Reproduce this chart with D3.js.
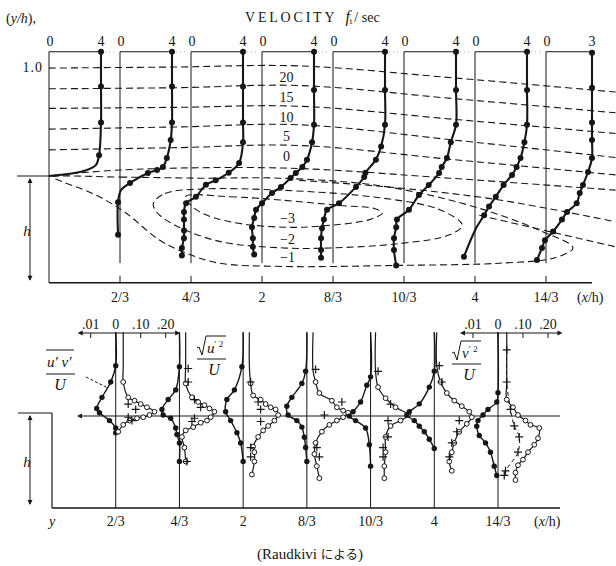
<!DOCTYPE html>
<html>
<head>
<meta charset="utf-8">
<script src="https://cdn.jsdelivr.net/npm/d3@7/dist/d3.min.js"></script>
<style>
  body { margin: 0; background: #fff; }
  svg text { font-family: "Liberation Serif", "DejaVu Serif", "Noto Sans CJK JP", serif; fill: #161616; }
</style>
</head>
<body>
<svg id="fig" width="616" height="566"></svg>
<script>
var WIDTH = 616;
var HEIGHT = 566;
var INK = "#161616";

// ---- top panel: velocity profiles (x/h stations, ft/sec) ----
var velStations = [0, 2/3, 4/3, 2, 8/3, 10/3, 4, 14/3];
var velTopTick = [4, 4, 4, 4, 4, 4, 4, 3];
var xTickLabels = ["2/3", "4/3", "2", "8/3", "10/3", "4", "14/3"];

// [y/h, u, dot]
var vel0 = [[1.14,4,1],[0.82,4,1],[0.49,4,1],[0.19,3.85,1],[0.10,3.6,0],[0.05,2.8,0],[0.02,1.6,0],[0,0,0]];
var vel1 = [[1.14,4,1],[0.82,4,1],[0.49,4,1],[0.33,3.9,1],[0.165,3.6,1],[0.083,3.3,1],[0.055,2.85,1],[0.028,2.15,1],
            [-0.064,0.77,1],[-0.128,0.08,0],[-0.24,-0.15,1],[-0.54,-0.15,1]];
var vel2 = [[1.14,4,1],[0.82,4,1],[0.49,4,1],[0.31,4,1],[0.12,3.7,1],[0.03,2.9,1],[-0.04,1.9,1],[-0.08,1.15,1],
            [-0.19,0.38,1],[-0.25,-0.38,1],[-0.33,-0.54,1],[-0.40,-0.54,1],[-0.50,-0.54,1],[-0.57,-0.54,1],[-0.66,-0.7,1],[-0.73,-0.7,1]];
var vel3 = [[1.14,4,1],[0.79,4,1],[0.47,4,1],[0.31,3.85,1],[0.15,3.46,1],[0.083,3.1,1],[0.028,2.6,1],[-0.018,2.2,1],
            [-0.1,1.46,1],[-0.156,0.77,1],[-0.25,0,1],[-0.31,-0.46,1],[-0.385,-0.6,1],[-0.47,-0.77,1],[-0.57,-0.7,1],[-0.65,-0.7,1],[-0.72,-0.6,1]];
var vel4 = [[1.14,4,1],[0.79,4,1],[0.47,4,1],[0.27,3.7,1],[0.15,3.3,1],[0.03,2.5,1],[-0.01,2.4,1],[-0.1,1.77,1],
            [-0.25,0.46,1],[-0.31,-0.46,1],[-0.4,-0.7,1],[-0.48,-0.85,1],[-0.57,-0.92,1],[-0.68,-0.92,1],[-0.75,-0.92,1]];
var vel5 = [[1.14,4,1],[0.79,4,1],[0.47,4,1],[0.31,3.6,1],[0.165,3.3,1],[0.083,2.9,1],[0.028,2.7,1],[-0.083,1.9,1],
            [-0.174,1.15,1],[-0.31,0.38,1],[-0.4,-0.54,1],[-0.47,-0.6,1],[-0.57,-0.77,1],[-0.68,-0.77,1],[-0.82,-0.6,1]];
var vel6 = [[1.14,4,1],[0.79,4,1],[0.47,4,1],[0.31,3.8,1],[0.165,3.5,1],[0.083,3.2,1],[0.01,2.85,1],[-0.083,2.2,1],
            [-0.19,1.6,1],[-0.28,1.08,1],[-0.36,0.7,1],[-0.48,0.08,0],[-0.74,-0.85,1]];
var vel7 = [[1.13,3,1],[0.81,3,1],[0.49,3,1],[0.33,3,1],[0.165,3,1],[0.037,2.74,1],[-0.083,2.41,1],[-0.156,2.2,1],
            [-0.25,2.0,1],[-0.33,1.37,1],[-0.4,1.04,1],[-0.51,0.46,1],[-0.59,-0.07,1],[-0.66,-0.26,1],[-0.77,-0.59,1]];
var velProfiles = [vel0, vel1, vel2, vel3, vel4, vel5, vel6, vel7];

// stream function contours [x/h, y/h]
var psiUpper = [20, 15, 10, 5, 0];
var str20 = [[0,0.99],[1.2,1.0],[2.35,1.01],[3.8,0.9],[5.32,0.77]];
var str15 = [[0,0.80],[1.2,0.81],[2.35,0.83],[3.8,0.71],[5.32,0.58]];
var str10 = [[0,0.62],[1.2,0.63],[2.35,0.64],[3.8,0.52],[5.32,0.39]];
var str5  = [[0,0.43],[1.2,0.45],[2.35,0.47],[3.8,0.33],[5.32,0.17]];
var str0  = [[0,0.24],[1.2,0.26],[2.35,0.28],[3.8,0.15],[5.32,0.01]];
var upperLines = [str20, str15, str10, str5, str0];

var fanA = [[0,0],[0.67,0.055],[2.2,0.073],[3.76,-0.02],[5.32,-0.13]];
var fanB = [[2.35,-0.04],[3.29,-0.11],[4.23,-0.22],[5.32,-0.42]];
var fanC = [[4.04,-0.36],[4.7,-0.51],[5.32,-0.65]];
var fanLines = [fanA, fanB, fanC];

var psiLower = [-3, -2, -1];
var loop3 = [[1.28,-0.19],[1.70,-0.19],[2.17,-0.22],[2.73,-0.27],[3.06,-0.30],[3.13,-0.34],[3.01,-0.40],
             [2.54,-0.46],[2.20,-0.47],[1.70,-0.42],[1.40,-0.32]];
var loop2 = [[0.98,-0.25],[1.09,-0.16],[1.42,-0.12],[2.17,-0.13],[3.11,-0.20],[3.67,-0.31],[3.88,-0.45],
             [3.76,-0.54],[3.29,-0.62],[2.64,-0.66],[2.20,-0.66],[1.60,-0.60],[1.18,-0.45],[1.01,-0.33]];
var loop1 = [[0.03,-0.01],[0.67,-0.01],[1.42,-0.02],[2.17,-0.02],[3.11,-0.09],[3.95,-0.27],[4.61,-0.50],
             [4.92,-0.66],[4.75,-0.75],[4.23,-0.80],[3.29,-0.82],[2.20,-0.83],[1.60,-0.80],[1.32,-0.72],
             [1.04,-0.59],[0.71,-0.33],[0.43,-0.17],[0.12,-0.05]];
var lowerLoops = [loop3, loop2, loop1];

// ---- bottom panel: turbulence profiles [y/h, value] ----
var turbStations = [2/3, 4/3, 2, 8/3, 10/3, 4, 14/3];
var scaleTicks = [-0.01, 0, 0.10, 0.20];
var scaleTickLabels = [".01", "0", ".10", ".20"];

// -u'v'/U (filled dots, plotted to the left)
var uv23  = [[0.89,0],[0.53,0],[0.355,0.002],[0.19,0.0055],[0.07,0.0076],[0.024,0.0065],[-0.06,0.0025],[-0.14,0],[-0.19,0]];
var uv43  = [[0.89,0],[0.52,0],[0.27,0.0015],[0.166,0.0045],[0.06,0.007],[0,0.0065],[-0.035,0.0035],[-0.14,0.0015],[-0.21,0.001],[-0.3,0],[-0.5,0]];
var uv2   = [[0.89,0],[0.52,0.0005],[0.27,0.0035],[0.166,0.0065],[0.035,0.007],[-0.06,0.005],[-0.19,0.0025],[-0.3,0.001],[-0.5,0]];
var uv83  = [[0.89,0],[0.47,0.0005],[0.34,0.002],[0.19,0.006],[0.095,0.008],[0,0.0075],[-0.06,0.004],[-0.13,0.002],[-0.24,0.001],[-0.35,0.0005],[-0.5,0]];
var uv103 = [[0.89,0],[0.41,0],[0.32,0.0015],[0.14,0.004],[0.035,0.007],[-0.012,0.0085],[-0.06,0.006],[-0.14,0.002],[-0.32,0.0005],[-0.55,0]];
var uv4   = [[0.89,0],[0.47,0],[0.3,0.002],[0.12,0.006],[0.035,0.01],[0,0.011],[-0.06,0.008],[-0.12,0.006],[-0.18,0.004],[-0.26,0.002],[-0.36,0]];
var uv143 = [[0.89,0],[0.24,0],[0.14,0.0005],[0.06,0.004],[0,0.006],[-0.06,0.008],[-0.12,0.0085],[-0.22,0.0075],[-0.3,0.005],[-0.4,0.003],[-0.55,0.0015],[-0.65,0.0005]];
var uvProfiles = [uv23, uv43, uv2, uv83, uv103, uv4, uv143];

// sqrt(u'^2)/U (open circles)
var u23  = [[0.89,0.03],[0.52,0.03],[0.355,0.03],[0.19,0.05],[0.154,0.075],[0.118,0.1],[0.083,0.125],[0.035,0.155],[0,0.135],[-0.024,0.11],[-0.035,0.085],[-0.06,0.055],[-0.106,0.03],[-0.18,0.01]];
var u43  = [[0.89,0.025],[0.52,0.025],[0.34,0.025],[0.19,0.05],[0.14,0.075],[0.106,0.1],[0.07,0.12],[0.035,0.14],[-0.024,0.125],[-0.06,0.11],[-0.083,0.085],[-0.13,0.055],[-0.166,0.025],[-0.236,0.01],[-0.35,0.02],[-0.5,0.025]];
var u2   = [[0.89,0.025],[0.52,0.025],[0.34,0.03],[0.21,0.04],[0.166,0.07],[0.118,0.09],[0.083,0.11],[0.06,0.13],[0,0.14],[-0.06,0.125],[-0.118,0.1],[-0.166,0.08],[-0.236,0.06],[-0.34,0.04],[-0.4,0.045],[-0.5,0.045],[-0.64,0.035]];
var u83  = [[0.89,0.025],[0.47,0.025],[0.355,0.035],[0.236,0.05],[0.154,0.1],[0.083,0.12],[0.047,0.145],[0.024,0.165],[-0.024,0.145],[-0.06,0.12],[-0.106,0.09],[-0.18,0.06],[-0.3,0.035],[-0.42,0.03],[-0.55,0.04],[-0.68,0.05]];
var u103 = [[0.89,0.02],[0.47,0.02],[0.3,0.03],[0.18,0.06],[0.083,0.1],[0,0.15],[-0.06,0.12],[-0.118,0.08],[-0.236,0.06],[-0.4,0.06],[-0.55,0.055],[-0.68,0.055]];
var u4   = [[0.89,0.01],[0.53,0.01],[0.355,0.025],[0.236,0.05],[0.154,0.08],[0.095,0.11],[0.035,0.14],[-0.024,0.15],[-0.095,0.13],[-0.18,0.1],[-0.3,0.08],[-0.4,0.07],[-0.5,0.06],[-0.6,0.07]];
var u143 = [[0.89,0.035],[0.355,0.035],[0.166,0.035],[0.083,0.06],[0,0.08],[-0.06,0.11],[-0.106,0.13],[-0.14,0.165],[-0.25,0.16],[-0.32,0.145],[-0.4,0.12],[-0.48,0.1],[-0.54,0.08],[-0.62,0.07],[-0.7,0.07]];
var urmsProfiles = [u23, u43, u2, u83, u103, u4, u143];

// sqrt(v'^2)/U (crosses)
var v23  = [[0.118,0.05],[0.06,0.08],[-0.024,0.05],[-0.06,0.065]];
var v43  = [[0.5,0.035],[0.355,0.035],[0.166,0.06],[0.083,0.085],[-0.035,0.06],[-0.07,0.05],[-0.5,0.03]];
var v2   = [[0.355,0.03],[0.14,0.06],[0.06,0.07],[-0.07,0.07],[-0.35,0.03],[-0.45,0.03]];
var v83  = [[0.49,0.035],[0.14,0.14],[0,0.07],[-0.35,0.04],[-0.45,0.05]];
var v103 = [[0.47,0.03],[0.118,0.08],[-0.06,0.07],[-0.236,0.07],[-0.35,0.05],[-0.45,0.05]];
var v4   = [[0.53,0.02],[0.355,0.03],[-0.06,0.1],[-0.18,0.09],[-0.3,0.07],[-0.45,0.06]];
var v143 = [[0.7,0.035],[0.355,0.035],[0.06,0.05],[-0.118,0.065],[-0.236,0.085],[-0.4,0.08],[-0.6,0.03],[-0.65,0.025]];
var vrmsProfiles = [v23, v43, v2, v83, v103, v4, v143];

var svg = d3.select("#fig");

function arrowHead(g, x, y, dir) {
  // small filled arrow head; dir: "up","down","left","right"
  var s = 5, w = 2.5, p;
  if (dir === "up") p = [[x, y], [x - w, y + s], [x + w, y + s]];
  if (dir === "down") p = [[x, y], [x - w, y - s], [x + w, y - s]];
  if (dir === "left") p = [[x, y], [x + s, y - w], [x + s, y + w]];
  if (dir === "right") p = [[x, y], [x - s, y - w], [x - s, y + w]];
  g.append("path").attr("d", "M" + p.join("L") + "Z").attr("fill", INK);
}

// ================= TOP PANEL =================
var xTop = d3.scaleLinear().domain([0, 14/3]).range([49, 546]);
var yTop = d3.scaleLinear().domain([-1, 1]).range([285, 67]);
var BOX_TOP = 1.14;
var FLOOR = -0.98;
function uScale(i) {
  var w = velTopTick[i] === 4 ? 52 : 46;
  return d3.scaleLinear().domain([0, velTopTick[i]]).range([0, w]);
}

var topG = svg.append("g");

svg.append("text").attr("x", 6).attr("y", 23).attr("font-size", 14)
  .html('(<tspan font-style="italic">y/h</tspan>),');
var title = svg.append("text").attr("x", 245).attr("y", 22).attr("font-size", 14);
title.append("tspan").attr("letter-spacing", 2.8).text("VELOCITY");
title.append("tspan").attr("dx", 8).attr("font-style", "italic").attr("font-size", 16).text("f");
title.append("tspan").attr("font-size", 9).attr("dy", 2).text("t");
title.append("tspan").attr("dy", -2).attr("dx", 2).text("/ sec");

svg.append("text").attr("x", 43).attr("y", yTop(1) + 5).attr("text-anchor", "end")
  .attr("font-size", 14).attr("letter-spacing", 1).text("1.0");

// dashed stream function lines
var dashG = topG.append("g").attr("fill", "none").attr("stroke", INK)
  .attr("stroke-width", 1.1).attr("stroke-dasharray", "7,4");
var openLine = d3.line().x(function (d) { return xTop(d[0]); })
  .y(function (d) { return yTop(d[1]); }).curve(d3.curveCatmullRom);
var closedLine = d3.line().x(function (d) { return xTop(d[0]); })
  .y(function (d) { return yTop(d[1]); }).curve(d3.curveCatmullRomClosed);

upperLines.forEach(function (ln) { dashG.append("path").attr("d", openLine(ln)); });
fanLines.forEach(function (ln) { dashG.append("path").attr("d", openLine(ln)); });
lowerLoops.forEach(function (ln) { dashG.append("path").attr("d", closedLine(ln)); });

// contour labels
var labelX = 2.23;
psiUpper.forEach(function (v, i) {
  var y = yTop(upperLines[i][2][1]);
  topG.append("rect").attr("x", xTop(labelX) - 9).attr("y", y + 4).attr("width", 18).attr("height", 13).attr("fill", "#fff");
  topG.append("text").attr("x", xTop(labelX)).attr("y", y + 16).attr("text-anchor", "middle")
    .attr("font-size", 14).text(v);
});
psiLower.forEach(function (v, i) {
  var bottom = d3.max(lowerLoops[i].filter(function (d) { return Math.abs(d[0] - 2.2) < 0.05; }), function (d) { return yTop(d[1]); });
  topG.append("rect").attr("x", xTop(labelX) - 12).attr("y", bottom - 15).attr("width", 24).attr("height", 12).attr("fill", "#fff");
  topG.append("text").attr("x", xTop(labelX) + 1).attr("y", bottom - 4).attr("text-anchor", "middle")
    .attr("font-size", 14).text("\u2212" + Math.abs(v));
});

// step and floor
topG.append("line").attr("x1", 17).attr("x2", xTop(0)).attr("y1", yTop(0)).attr("y2", yTop(0))
  .attr("stroke", INK).attr("stroke-width", 1);
topG.append("line").attr("x1", xTop(0)).attr("x2", 592).attr("y1", yTop(FLOOR)).attr("y2", yTop(FLOOR))
  .attr("stroke", INK).attr("stroke-width", 1.4);
topG.append("line").attr("x1", 30).attr("x2", 30).attr("y1", yTop(0) + 3).attr("y2", yTop(FLOOR) - 3)
  .attr("stroke", INK).attr("stroke-width", 1);
arrowHead(topG, 30, yTop(0) + 2, "up");
arrowHead(topG, 30, yTop(FLOOR) - 2, "down");
topG.append("text").attr("x", 27).attr("y", yTop(-0.5) + 5).attr("text-anchor", "middle")
  .attr("font-size", 15).attr("font-style", "italic").text("h");

// station lines, box tops, tick labels, profiles
velStations.forEach(function (s, i) {
  var x0 = xTop(s), us = uScale(i);
  var yEnd = i === 0 ? yTop(FLOOR) : yTop(-0.8);
  topG.append("line").attr("x1", x0).attr("x2", x0).attr("y1", yTop(BOX_TOP)).attr("y2", yEnd)
    .attr("stroke", INK).attr("stroke-width", 1);
  if (i > 0) {
    topG.append("line").attr("x1", x0).attr("x2", x0).attr("y1", yTop(FLOOR) - 7).attr("y2", yTop(FLOOR))
      .attr("stroke", INK).attr("stroke-width", 1);
    topG.append("text").attr("x", x0).attr("y", 302).attr("text-anchor", "middle")
      .attr("font-size", 14).text(xTickLabels[i - 1]);
  }
  topG.append("line").attr("x1", x0).attr("x2", x0 + us(velTopTick[i])).attr("y1", yTop(BOX_TOP)).attr("y2", yTop(BOX_TOP))
    .attr("stroke", INK).attr("stroke-width", 1);
  if (i < velStations.length - 1) {
    topG.append("line").attr("x1", x0 + us(velTopTick[i]) + 4).attr("x2", xTop(velStations[i + 1]) - 3)
      .attr("y1", yTop(BOX_TOP)).attr("y2", yTop(BOX_TOP))
      .attr("stroke", "#999").attr("stroke-width", 0.8).attr("stroke-dasharray", "1,3");
  }
  topG.append("text").attr("x", x0 + 1).attr("y", 46).attr("text-anchor", "middle").attr("font-size", 14).text(0);
  topG.append("text").attr("x", x0 + us(velTopTick[i])).attr("y", 46).attr("text-anchor", "middle")
    .attr("font-size", 14).text(velTopTick[i]);

  var prof = velProfiles[i];
  var line = d3.line().x(function (d) { return x0 + us(d[1]); }).y(function (d) { return yTop(d[0]); })
    .curve(d3.curveCatmullRom);
  topG.append("path").attr("d", line(prof)).attr("fill", "none").attr("stroke", INK).attr("stroke-width", 2.1);
  topG.selectAll(null).data(prof.filter(function (d) { return d[2]; })).enter().append("circle")
    .attr("cx", function (d) { return x0 + us(d[1]); }).attr("cy", function (d) { return yTop(d[0]); })
    .attr("r", 3).attr("fill", INK);
});
topG.append("text").attr("x", 577).attr("y", 302).attr("font-size", 14)
  .html('(<tspan font-style="italic">x</tspan>/h)');

// ================= BOTTOM PANEL =================
var xBot = d3.scaleLinear().domain([0, 14/3]).range([52, 498]);
var yBot = d3.scaleLinear().domain([-1, 0]).range([508, 415]);
var rmsScale = d3.scaleLinear().domain([0, 0.2]).range([0, 50]);
var uvScale = d3.scaleLinear().domain([0, 0.01]).range([0, 25]);
function scaleX(v) { return v < 0 ? -uvScale(-v) : rmsScale(v); }

var bot = svg.append("g");

// wall, step, floor, reference line
bot.append("line").attr("x1", 18).attr("x2", xBot(0)).attr("y1", yBot(0) - 2).attr("y2", yBot(0) - 2)
  .attr("stroke", INK).attr("stroke-width", 1);
bot.append("line").attr("x1", xBot(0)).attr("x2", xBot(0)).attr("y1", yBot(0) - 2).attr("y2", yBot(-1))
  .attr("stroke", INK).attr("stroke-width", 1.2);
bot.append("line").attr("x1", xBot(0)).attr("x2", 560).attr("y1", yBot(-1)).attr("y2", yBot(-1))
  .attr("stroke", INK).attr("stroke-width", 1.4);
bot.append("line").attr("x1", 80).attr("x2", 560).attr("y1", yBot(0) + 1).attr("y2", yBot(0) + 1)
  .attr("stroke", INK).attr("stroke-width", 1.1);
arrowHead(bot, 77, yBot(0) + 1, "left");
bot.append("line").attr("x1", 30).attr("x2", 30).attr("y1", yBot(0) + 1).attr("y2", yBot(-1) - 4)
  .attr("stroke", INK).attr("stroke-width", 1);
arrowHead(bot, 30, yBot(0), "up");
arrowHead(bot, 30, yBot(-1) - 3, "down");
bot.append("text").attr("x", 27).attr("y", yBot(-0.5) + 5).attr("text-anchor", "middle")
  .attr("font-size", 15).attr("font-style", "italic").text("h");
bot.append("text").attr("x", xBot(0)).attr("y", 526).attr("text-anchor", "middle")
  .attr("font-size", 14).attr("font-style", "italic").text("y");
bot.append("text").attr("x", 534).attr("y", 526).attr("font-size", 14)
  .html('(<tspan font-style="italic">x</tspan>/h)');

// scale bars above first and last station
[0, turbStations.length - 1].forEach(function (k) {
  var x0 = xBot(turbStations[k]), yb = 333;
  bot.append("line").attr("x1", x0 - 36).attr("x2", x0 + rmsScale(0.25)).attr("y1", yb).attr("y2", yb)
    .attr("stroke", INK).attr("stroke-width", 1.1);
  arrowHead(bot, x0 - 38, yb, "left");
  arrowHead(bot, x0 + rmsScale(0.25) + 2, yb, "right");
  scaleTicks.forEach(function (t, j) {
    var tx = x0 + scaleX(t);
    bot.append("line").attr("x1", tx).attr("x2", tx).attr("y1", yb).attr("y2", yb + 5)
      .attr("stroke", INK).attr("stroke-width", 1);
    bot.append("text").attr("x", tx).attr("y", yb - 4).attr("text-anchor", "middle")
      .attr("font-size", 14).text(scaleTickLabels[j]);
  });
});

turbStations.forEach(function (s, i) {
  var x0 = xBot(s);
  bot.append("line").attr("x1", x0).attr("x2", x0).attr("y1", yBot(0.89)).attr("y2", yBot(-1))
    .attr("stroke", INK).attr("stroke-width", 1);
  bot.append("text").attr("x", x0).attr("y", 526).attr("text-anchor", "middle")
    .attr("font-size", 14).text(xTickLabels[i]);

  var uvLine = d3.line().x(function (d) { return x0 - uvScale(d[1]); }).y(function (d) { return yBot(d[0]); })
    .curve(d3.curveCatmullRom);
  var rmsLine = d3.line().x(function (d) { return x0 + rmsScale(d[1]); }).y(function (d) { return yBot(d[0]); })
    .curve(d3.curveCatmullRom);

  bot.append("path").attr("d", uvLine(uvProfiles[i])).attr("fill", "none").attr("stroke", INK).attr("stroke-width", 1.4);
  bot.append("path").attr("d", rmsLine(urmsProfiles[i])).attr("fill", "none").attr("stroke", INK).attr("stroke-width", 1.2);
  if (i === turbStations.length - 1) {
    bot.append("path").attr("d", rmsLine(vrmsProfiles[i])).attr("fill", "none").attr("stroke", INK)
      .attr("stroke-width", 1).attr("stroke-dasharray", "4,3");
  }

  bot.selectAll(null).data(uvProfiles[i].slice(1)).enter().append("circle")
    .attr("cx", function (d) { return x0 - uvScale(d[1]); }).attr("cy", function (d) { return yBot(d[0]); })
    .attr("r", 2.7).attr("fill", INK);
  bot.selectAll(null).data(urmsProfiles[i].slice(2)).enter().append("circle")
    .attr("cx", function (d) { return x0 + rmsScale(d[1]); }).attr("cy", function (d) { return yBot(d[0]); })
    .attr("r", 2.4).attr("fill", "#fff").attr("stroke", INK).attr("stroke-width", 1);
  bot.selectAll(null).data(vrmsProfiles[i]).enter().append("path")
    .attr("d", function (d) {
      var cx = x0 + rmsScale(d[1]), cy = yBot(d[0]);
      return "M" + (cx - 4) + "," + cy + "H" + (cx + 4) + "M" + cx + "," + (cy - 4) + "V" + (cy + 4);
    })
    .attr("stroke", INK).attr("stroke-width", 1.2);
});

// quantity labels
function fracLabel(x, y, root, sym) {
  var g = bot.append("g");
  var w = 28;
  if (root) {
    g.append("path").attr("d", "M" + x + "," + (y + 4) + "l2,-1 l3,8 l4,-19 h" + (w - 8))
      .attr("fill", "none").attr("stroke", INK).attr("stroke-width", 1);
    g.append("text").attr("x", x + 10).attr("y", y + 9).attr("font-size", 15).attr("font-style", "italic")
      .html(sym + '<tspan font-style="normal" font-size="9" dy="-6">\u2032 2</tspan>');
  } else {
    g.append("line").attr("x1", x).attr("x2", x + w).attr("y1", y - 9).attr("y2", y - 9)
      .attr("stroke", INK).attr("stroke-width", 1);
    g.append("text").attr("x", x + 1).attr("y", y + 8).attr("font-size", 15).attr("font-style", "italic")
      .text("u\u2032 v\u2032");
  }
  g.append("line").attr("x1", x).attr("x2", x + w + 1).attr("y1", y + 15).attr("y2", y + 15)
    .attr("stroke", INK).attr("stroke-width", 1);
  g.append("text").attr("x", x + (root ? 17 : 14)).attr("y", y + 31).attr("text-anchor", "middle")
    .attr("font-size", 16).attr("font-style", "italic").text("U");
}
fracLabel(46, 359, false);
fracLabel(197, 344, true, "u");
fracLabel(452, 349, true, "v");
bot.append("line").attr("x1", 86).attr("y1", 377).attr("x2", 108).attr("y2", 388)
  .attr("stroke", INK).attr("stroke-width", 1).attr("stroke-dasharray", "3,2");

var cap = svg.append("text").attr("x", 310).attr("y", 559).attr("text-anchor", "middle").attr("font-size", 15);
cap.append("tspan").text("(Raudkivi ");
cap.append("tspan").attr("font-size", 12.5).text("\u306B\u3088\u308B");
cap.append("tspan").text(")");
</script>
</body>
</html>
